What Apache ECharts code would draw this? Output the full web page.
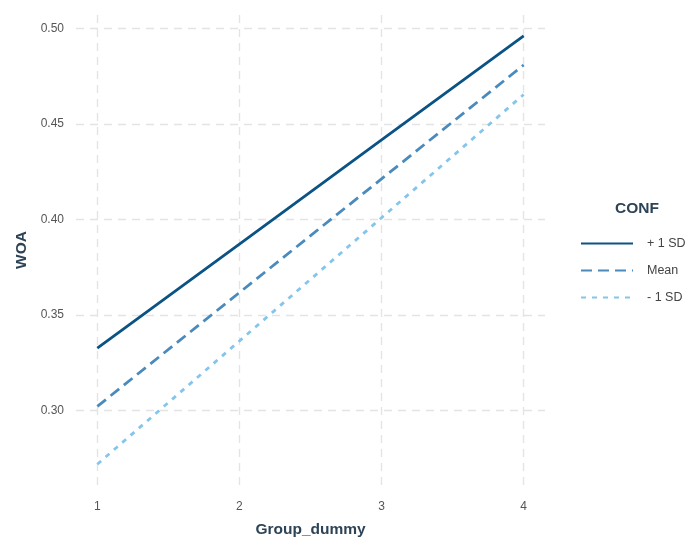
<!DOCTYPE html>
<html>
<head>
<meta charset="utf-8">
<script src="https://cdn.jsdelivr.net/npm/echarts@6/dist/echarts.min.js"></script>
<style>
  html, body { margin: 0; padding: 0; background: #fff; }
  #chart { width: 686px; height: 537px; }
</style>
</head>
<body>
<div id="chart"></div>
<script>
// Group_dummy levels on the x axis
const groups = [1, 2, 3, 4];
// Predicted WOA at each CONF level (simple slopes)
const plusOneSD = [0.3325, 0.3871, 0.4417, 0.4963];
const meanConf = [0.3020, 0.3617, 0.4213, 0.4810];
const minusOneSD = [0.2717, 0.3363, 0.4009, 0.4655];
// Tick positions
const xTicks = [1, 2, 3, 4];
const yTicks = [0.30, 0.35, 0.40, 0.45, 0.50];

const toPairs = vals => groups.map((g, i) => [g, vals[i]]);

const gridLine = { show: true, lineStyle: { color: '#e4e4e4', width: 1.4, type: [8, 6] } };
const textCol = '#2d4356';
const font = 'Liberation Sans, Arial';

const chart = echarts.init(document.getElementById('chart'));
chart.setOption({
  animation: false,
  backgroundColor: '#ffffff',
  title: {
    text: 'CONF',
    left: 610, top: 196,
    textStyle: { fontFamily: font, fontWeight: 'bold', fontSize: 15.5, color: textCol }
  },
  legend: {
    orient: 'vertical',
    left: 575, top: 232,
    itemWidth: 52, itemHeight: 14, itemGap: 14,
    itemStyle: { opacity: 0 },
    textStyle: { fontFamily: font, fontSize: 12.5, color: '#444', padding: [0, 0, 0, 9] },
    data: ['+ 1 SD', 'Mean', '- 1 SD']
  },
  grid: { left: 76, right: 141, top: 15, bottom: 52, outerBoundsMode: 'none' },
  xAxis: {
    type: 'value', min: 0.85, max: 4.15,
    name: 'Group_dummy', nameLocation: 'middle', nameGap: 37,
    nameTextStyle: { fontFamily: font, fontWeight: 'bold', fontSize: 15.5, color: textCol },
    axisLine: { show: false },
    axisTick: { show: false, customValues: xTicks },
    axisLabel: { customValues: xTicks, margin: 16, fontFamily: font, fontSize: 12, color: '#555' },
    splitLine: gridLine
  },
  yAxis: {
    type: 'value', min: 0.2608, max: 0.5072,
    name: 'WOA', nameLocation: 'middle', nameGap: 44, nameRotate: 90,
    nameTextStyle: { fontFamily: font, fontWeight: 'bold', fontSize: 15.5, color: textCol },
    axisLine: { show: false },
    axisTick: { show: false, customValues: yTicks },
    axisLabel: { customValues: yTicks, margin: 12, fontFamily: font, fontSize: 12, color: '#555',
      formatter: v => v.toFixed(2) },
    splitLine: gridLine
  },
  series: [
    { name: '+ 1 SD', type: 'line', data: toPairs(plusOneSD), symbol: 'none', color: '#0b5384',
      lineStyle: { width: 2.8, color: '#0b5384', type: 'solid' } },
    { name: 'Mean', type: 'line', data: toPairs(meanConf), symbol: 'none', color: '#4a8abc',
      lineStyle: { width: 2.8, color: '#4a8abc', type: [11, 6] } },
    { name: '- 1 SD', type: 'line', data: toPairs(minusOneSD), symbol: 'none', color: '#83c5ec',
      lineStyle: { width: 2.8, color: '#83c5ec', type: [5, 6] } }
  ]
});
</script>
</body>
</html>
